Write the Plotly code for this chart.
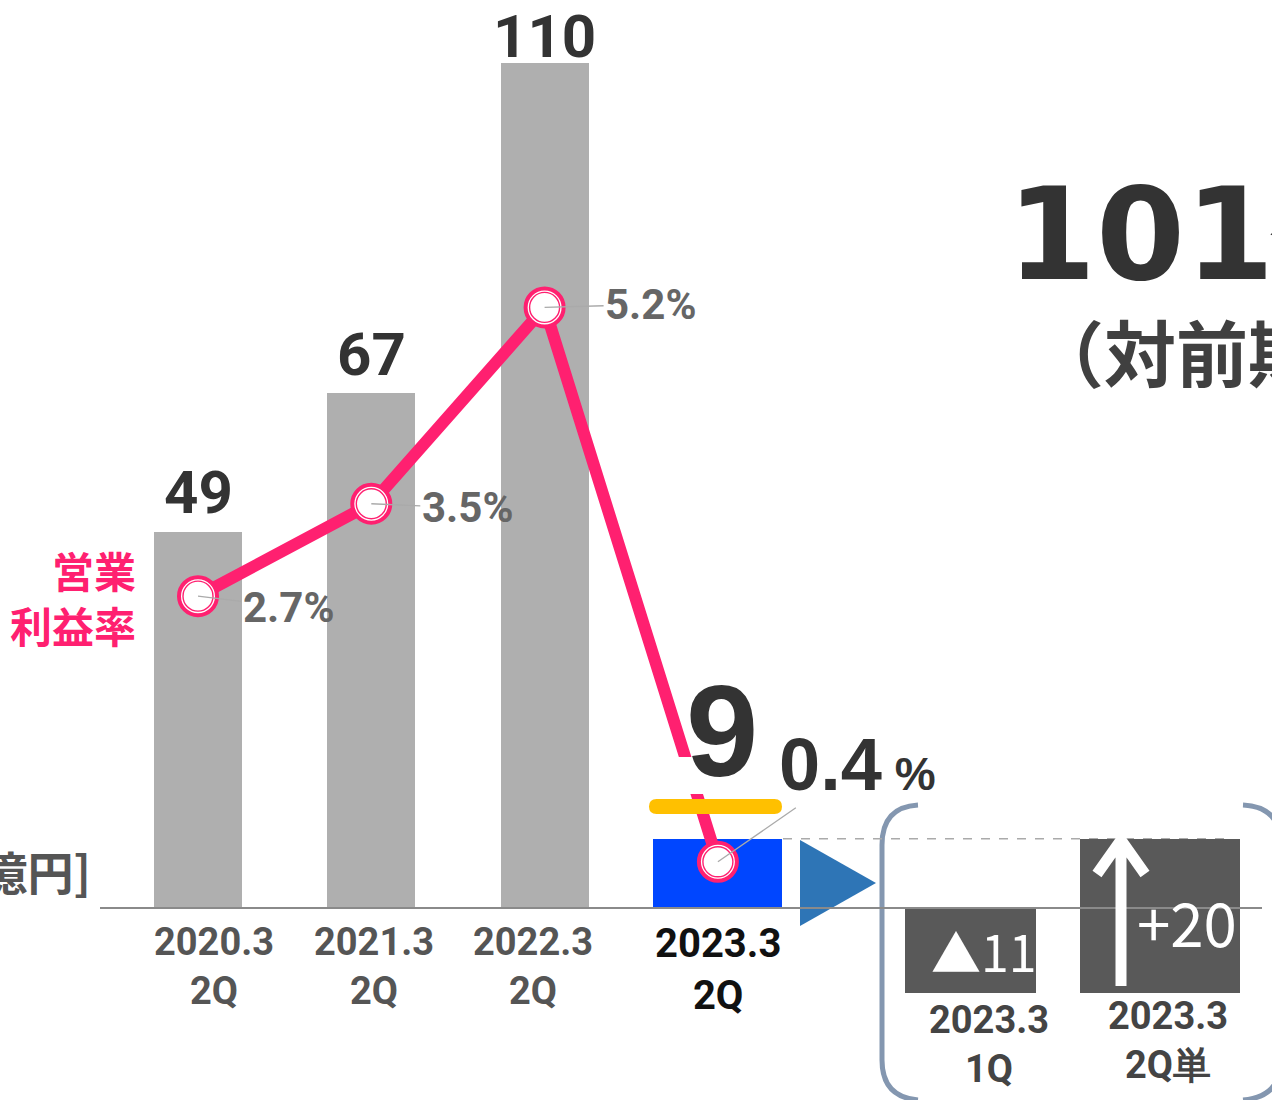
import plotly.graph_objects as go

W, H = 1272, 1100

# ---------------- data ----------------
periods = ["2020.3<br>2Q", "2021.3<br>2Q", "2022.3<br>2Q", "2023.3<br>2Q"]
op_income = [49, 67, 110, 9]              # 営業利益 [億円]
op_margin = [2.7, 3.5, 5.2, 0.4]          # 営業利益率 [%]
quarter_labels = ["2023.3<br>1Q", "2023.3<br>2Q単"]
quarter_change = [-11, 20]                # 四半期の増減 [億円]
headline = "101億円"
headline_sub = "（対前期比"
unit_label = "[億円]"
margin_title = "営業<br>利益率"

# ---------------- layout constants ----------------
X_PX0, X_STEP = 198.0, 173.3       # pixel of category 0, pixels per category
Y_PX0, Y_SCALE = 908.0, 7.682      # baseline pixel, pixels per 億円
P_SCALE = 115.5                    # pixels per %

def xd(px):
    return (px - X_PX0) / X_STEP

def yd(py):
    return (Y_PX0 - py) / Y_SCALE

def pxp(x):
    return x / W

def pyp(y):
    return 1 - y / H

GRAY_BAR = "#AFAFAF"
BLUE_BAR = "#0046FF"
DARK_BAR = "#595959"
PINK = "#FF2070"

main_x = list(range(len(op_income)))
quarter_x = [4.455, 5.55]
main_width = [0.508, 0.508, 0.508, 0.744]
quarter_width = [0.756, 0.92]

quarter_base = []
acc = 0
for v in quarter_change:
    quarter_base.append(acc)
    acc += v
quarter_total = acc

fig = go.Figure()

fig.add_trace(go.Bar(
    x=main_x, y=op_income, width=main_width,
    marker=dict(color=[GRAY_BAR] * 3 + [BLUE_BAR], line=dict(width=0)),
    hoverinfo="skip", showlegend=False,
))

fig.add_trace(go.Bar(
    x=quarter_x, y=quarter_change, base=quarter_base, width=quarter_width,
    marker=dict(color=DARK_BAR, line=dict(width=0)),
    hoverinfo="skip", showlegend=False,
))

fig.add_trace(go.Scatter(
    x=main_x, y=op_margin, yaxis="y2", mode="lines",
    line=dict(color=PINK, width=12),
    hoverinfo="skip", showlegend=False,
))
fig.add_trace(go.Scatter(
    x=main_x, y=op_margin, yaxis="y2", mode="markers",
    marker=dict(size=38, color="white", line=dict(color=PINK, width=4)),
    hoverinfo="skip", showlegend=False,
))
fig.add_trace(go.Scatter(
    x=main_x, y=op_margin, yaxis="y2", mode="markers",
    marker=dict(size=30, color="white", line=dict(color=PINK, width=1.4)),
    hoverinfo="skip", showlegend=False,
))

shapes = []
# baseline
shapes.append(dict(type="line", xref="x", yref="y", x0=xd(100), x1=xd(1262), y0=0, y1=0,
                   line=dict(color="#8A8A8A", width=2), layer="above"))
# dashed total level
shapes.append(dict(type="line", xref="x", yref="y", x0=xd(783), x1=xd(1233),
                   y0=quarter_total, y1=quarter_total,
                   line=dict(color="#AAAAAA", width=1.5, dash="dash"), layer="below"))
# white gap where the line passes behind the big "9"
shapes.append(dict(type="rect", xref="paper", yref="paper",
                   x0=pxp(674), x1=pxp(706), y0=pyp(757), y1=pyp(794),
                   fillcolor="white", line=dict(width=0), layer="above"))
# yellow cap
x0, x1, y0, y1, r = 649, 782, 799, 814, 7.5
yellow = (f"M {pxp(x0+r)},{pyp(y0)} L {pxp(x1-r)},{pyp(y0)} "
          f"Q {pxp(x1)},{pyp(y0)} {pxp(x1)},{pyp((y0+y1)/2)} "
          f"Q {pxp(x1)},{pyp(y1)} {pxp(x1-r)},{pyp(y1)} "
          f"L {pxp(x0+r)},{pyp(y1)} "
          f"Q {pxp(x0)},{pyp(y1)} {pxp(x0)},{pyp((y0+y1)/2)} "
          f"Q {pxp(x0)},{pyp(y0)} {pxp(x0+r)},{pyp(y0)} Z")
shapes.append(dict(type="path", xref="paper", yref="paper", path=yellow,
                   fillcolor="#FFC000", line=dict(width=0), layer="above"))
# blue triangle
tri = f"M {pxp(800)},{pyp(840)} L {pxp(876)},{pyp(883)} L {pxp(800)},{pyp(926)} Z"
shapes.append(dict(type="path", xref="paper", yref="paper", path=tri,
                   fillcolor="#2E75B6", line=dict(width=0), layer="below"))
# brackets
lb = (f"M {pxp(918)},{pyp(805)} Q {pxp(882)},{pyp(807)} {pxp(882)},{pyp(845)} "
      f"L {pxp(882)},{pyp(1060)} Q {pxp(882)},{pyp(1097)} {pxp(918)},{pyp(1100)}")
rb = (f"M {pxp(1243)},{pyp(805)} Q {pxp(1281)},{pyp(807)} {pxp(1281)},{pyp(845)} "
      f"L {pxp(1281)},{pyp(1060)} Q {pxp(1281)},{pyp(1097)} {pxp(1243)},{pyp(1100)}")
for p in (lb, rb):
    shapes.append(dict(type="path", xref="paper", yref="paper", path=p,
                       line=dict(color="#8497B0", width=5), layer="below"))
# white up arrow inside the +20 bar
arrow = (f"M {pxp(1121)},{pyp(986)} L {pxp(1121)},{pyp(840)} "
         f"M {pxp(1097)},{pyp(874)} L {pxp(1121)},{pyp(840)} L {pxp(1145)},{pyp(874)}")
shapes.append(dict(type="path", xref="paper", yref="paper", path=arrow,
                   line=dict(color="white", width=11), layer="above"))

ann = []
# bar values (first three)
value_shift = [39, 39, 26]
for i in range(3):
    ann.append(dict(x=main_x[i], y=op_income[i], xref="x", yref="y",
                    text=str(op_income[i]), showarrow=False, yanchor="middle", yshift=value_shift[i],
                    font=dict(family="Roboto", size=60, color="#333333", weight="bold")))
# big 9
ann.append(dict(x=main_x[3], y=op_income[3], xref="x", yref="y", text=str(op_income[3]),
                showarrow=False, xanchor="center", yanchor="middle", xshift=4, yshift=108,
                font=dict(family="Liberation Sans", size=130, color="#333333", weight="bold")))
# margin labels with leader lines
offsets = [(90, 11), (96, 4), (106, -3)]
for i in range(3):
    ax, ay = offsets[i]
    ann.append(dict(x=main_x[i], y=op_margin[i], xref="x", yref="y2",
                    text=f"{op_margin[i]}%", showarrow=True, arrowhead=0, arrowwidth=1.3,
                    arrowcolor="#AAAAAA", ax=ax, ay=ay, standoff=0,
                    font=dict(family="Roboto", size=42, color="#666666", weight="bold")))
ann.append(dict(x=main_x[3], y=op_margin[3], xref="x", yref="y2",
                text=f"{op_margin[3]}<span style='font-size:46px'> %</span>",
                showarrow=True, arrowhead=0, arrowwidth=1.3, arrowcolor="#AAAAAA",
                ax=140, ay=-97, standoff=0,
                font=dict(family="Liberation Sans", size=74, color="#333333", weight="bold")))
# category labels
label_xshift = [16, 3, -12, 0]
for i, lab in enumerate(periods):
    last = i == len(periods) - 1
    ann.append(dict(x=main_x[i], y=yd(966 if not last else 969), xref="x", yref="y",
                    text=lab, showarrow=False, yanchor="middle", xshift=label_xshift[i],
                    font=dict(family="Roboto", size=38 if not last else 40,
                              color="#555555" if not last else "#111111", weight="bold")))
q_label_y = [1044, 1040]
q_label_xshift = [19, 8]
for i, lab in enumerate(quarter_labels):
    ann.append(dict(x=quarter_x[i], y=yd(q_label_y[i]), xref="x", yref="y",
                    text=lab, showarrow=False, yanchor="middle", xshift=q_label_xshift[i],
                    font=dict(family="Roboto", size=38, color="#444444", weight="bold")))
# values inside quarter bars
ann.append(dict(x=quarter_x[0], y=quarter_base[0] + quarter_change[0] / 2, xref="x", yref="y",
                text="▲" + str(abs(quarter_change[0])), showarrow=False, yanchor="middle", xshift=14,
                font=dict(family="Noto Sans CJK JP", size=50, color="white")))
ann.append(dict(x=quarter_x[1], y=yd(920), xref="x", yref="y",
                text=f"+{quarter_change[1]}", showarrow=False, yanchor="middle", xshift=27,
                font=dict(family="Noto Sans CJK JP", size=60, color="white")))
# side texts
ann.append(dict(x=pxp(138), y=pyp(597), xref="paper", yref="paper", text=margin_title,
                showarrow=False, xanchor="right", yanchor="middle", align="right",
                font=dict(family="Noto Sans CJK JP", size=42, color=PINK, weight="bold")))
ann.append(dict(x=pxp(93), y=pyp(870), xref="paper", yref="paper", text=unit_label,
                showarrow=False, xanchor="right", yanchor="middle",
                font=dict(family="Noto Sans CJK JP", size=46, color="#555555", weight="bold")))
ann.append(dict(x=pxp(1005), y=pyp(234), xref="paper", yref="paper", text=headline,
                showarrow=False, xanchor="left", yanchor="middle",
                font=dict(family="DejaVu Sans", size=128, color="#333333", weight="bold")))
ann.append(dict(x=pxp(1030), y=pyp(350), xref="paper", yref="paper", text=headline_sub,
                showarrow=False, xanchor="left", yanchor="middle",
                font=dict(family="Noto Sans CJK JP", size=72, color="#404040", weight="bold")))

fig.update_layout(
    width=W, height=H,
    margin=dict(l=0, r=0, t=0, b=0),
    paper_bgcolor="white", plot_bgcolor="white",
    barmode="overlay", bargap=0,
    xaxis=dict(range=[xd(0), xd(W)], visible=False, fixedrange=True),
    yaxis=dict(range=[yd(H), yd(0)], visible=False, fixedrange=True),
    yaxis2=dict(range=[(Y_PX0 - H) / P_SCALE, Y_PX0 / P_SCALE], overlaying="y",
                visible=False, fixedrange=True),
    shapes=shapes, annotations=ann,
    showlegend=False,
)

fig.write_html("out.html", config={"displayModeBar": False},
               post_script="document.body.style.margin='0';document.body.style.overflow='hidden';")
